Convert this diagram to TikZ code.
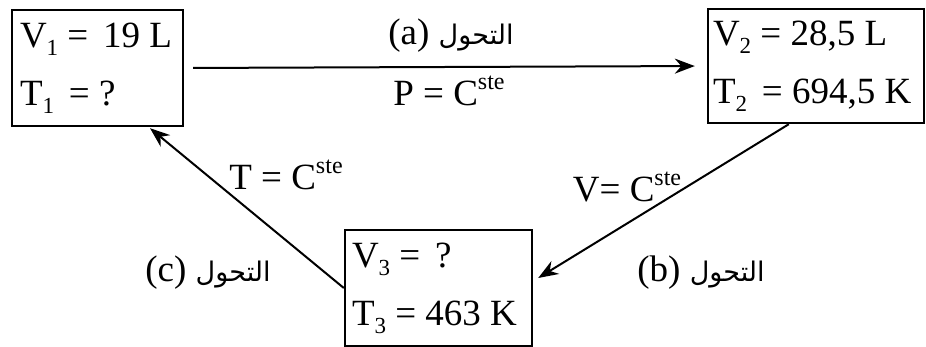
\documentclass[tikz,border=0pt]{standalone}
\usepackage{fontspec}
\setmainfont{Liberation Serif}
\newfontfamily\arabicfont[Script=Arabic]{DejaVu Sans}
\TeXXeTstate=1
\usetikzlibrary{arrows.meta}
\newcommand{\ar}[1]{{\arabicfont\fontsize{27}{30}\selectfont\beginR #1\endR}}
\newcommand{\boxline}[2]{\makebox[#1][l]{#2}}
\newcommand{\sbs}[1]{\raisebox{-0.22em}{\fontsize{23}{23}\selectfont #1}}
\newcommand{\sps}[1]{\raisebox{0.42em}{\fontsize{24}{24}\selectfont #1}}
\begin{document}
\begin{tikzpicture}[x=1pt,y=-1pt,
  box/.style={draw, line width=2.4pt, inner sep=0pt, align=left, font=\fontsize{37}{58}\selectfont},
  lbl/.style={inner sep=0pt, font=\fontsize{37}{44}\selectfont},
  arr/.style={-{Stealth[length=20pt,width=15pt]}, line width=2pt}]
\useasboundingbox (0,0) rectangle (926,347);
\node[box, minimum width=171pt, minimum height=116pt] (b1) at (97.5,68)
  {\boxline{155pt}{V\sbs{1} =\hspace{0.4em}19 L}\\\boxline{155pt}{T\sbs{1}\hspace{0.4em}= ?}};
\node[box, minimum width=216pt, minimum height=114pt] (b2) at (816,66)
  {\boxline{206pt}{V\sbs{2} = 28,5 L}\\\boxline{206pt}{T\sbs{2}\hspace{0.4em}= 694,5 K}};
\node[box, minimum width=187pt, minimum height=116pt] (b3) at (438.5,288)
  {\boxline{173pt}{V\sbs{3} =\hspace{0.4em}?}\\\boxline{173pt}{T\sbs{3} = 463 K}};
% connectors
\draw[arr, shorten <=9pt, shorten >=12pt] (b1.east) -- (b2.west);
\draw[arr] ([xshift=82pt]b2.south west) -- ([xshift=5pt,yshift=10pt]b3.east);
\draw[arr] (b3.west) -- ([xshift=52.5pt,yshift=-1pt]b1.south);
% labels
\node[lbl] (la) at (451,36) {(a) \ar{التحول}};
\node[lbl] (pa) at (449,91) {P = C\sps{ste}};
\node[lbl] (vb) at (627,187) {V= C\sps{ste}};
\node[lbl] (lb) at (701,273) {(b) \ar{التحول}};
\node[lbl] (tc) at (286,175) {T = C\sps{ste}};
\node[lbl] (lc) at (208,273) {(c) \ar{التحول}};
\end{tikzpicture}
\end{document}
